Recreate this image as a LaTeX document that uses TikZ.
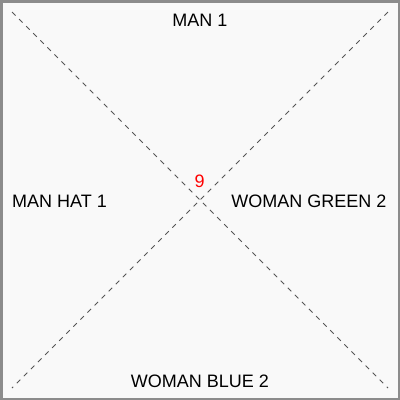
\documentclass[tikz,border=0pt]{standalone}
\usepackage{fontspec}
\setmainfont{Liberation Sans}
\definecolor{panelbg}{HTML}{F9F9F9}
\definecolor{panelrim}{HTML}{8C8C8C}
\definecolor{diaggray}{HTML}{555555}
\tikzset{
  lbl/.style={inner sep=0pt,font=\fontsize{18}{21}\selectfont},
  diag/.style={diaggray,line width=.8pt,dash pattern=on 5pt off 5pt}
}
\begin{document}
\begin{tikzpicture}[x=1pt,y=-1pt,line cap=butt]
  \fill[panelbg] (0,0) rectangle (400,400);
  \draw[panelrim,line width=2.5pt] (1.25,1.25) rectangle (398.75,398.75);
  \useasboundingbox (0,0) rectangle (400,400);
  \coordinate (tl) at (12,12);
  \coordinate (tr) at (388,12);
  \coordinate (bl) at (12,388);
  \coordinate (br) at (388,388);
  \draw[diag] (tl)--(br);
  \draw[diag] (tr)--(bl);
  \node[lbl,anchor=base] (man) at (200,26) {MAN 1};
  \node[lbl,anchor=base west] (manhat) at (12,207) {MAN HAT 1};
  \node[lbl,anchor=base east] (womgreen) at (386.5,207.5) {WOMAN GREEN 2};
  \node[lbl,anchor=base] (womblue) at (200,387) {WOMAN BLUE 2};
  \node[lbl,anchor=base,red] (count) at (199.7,187.3) {9};
\end{tikzpicture}
\end{document}
